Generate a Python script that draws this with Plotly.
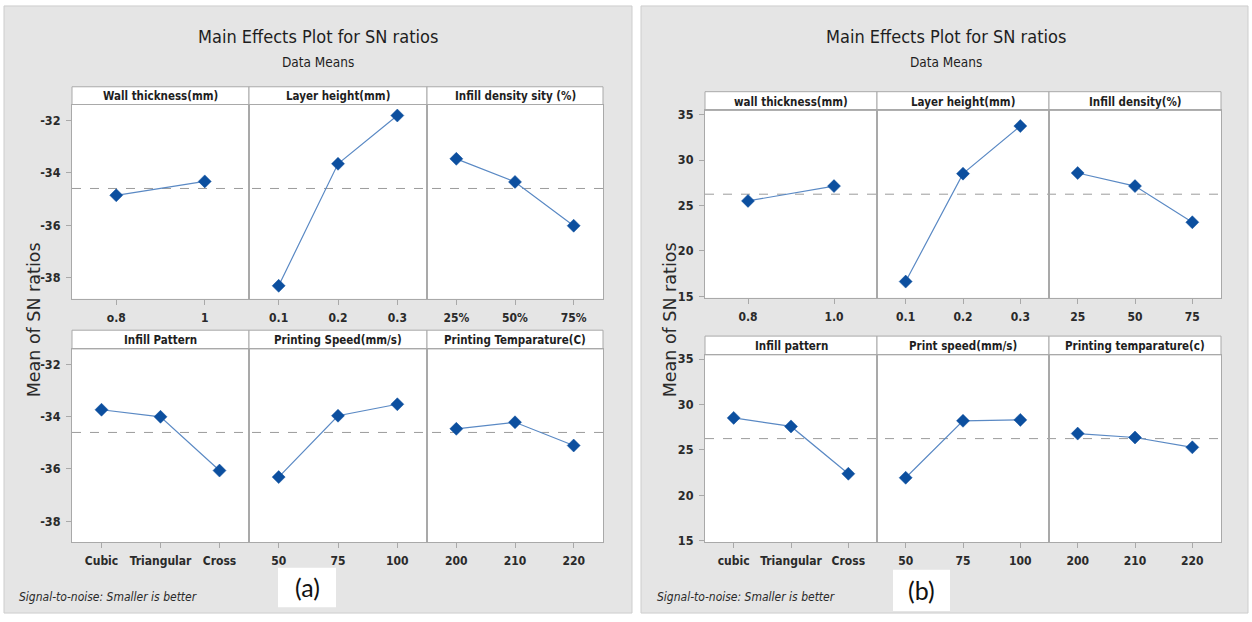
import plotly.graph_objects as go

# ---------------- (a) SN ratios, first response ----------------
a_wall_levels = ["o.8", "1"]
a_wall = [-34.86, -34.33]
a_layer_levels = ["0.1", "0.2", "0.3"]
a_layer = [-38.31, -33.66, -31.82]
a_density_levels = ["25%", "50%", "75%"]
a_density = [-33.47, -34.35, -36.02]
a_pattern_levels = ["Cubic", "Triangular", "Cross"]
a_pattern = [-33.73, -34.00, -36.06]
a_speed_levels = ["50", "75", "100"]
a_speed = [-36.31, -33.96, -33.52]
a_temp_levels = ["200", "210", "220"]
a_temp = [-34.46, -34.21, -35.10]
a_grand_mean = -34.6
a_titles = ["Wall thickness(mm)", "Layer height(mm)", "Infill density sity (%)",
            "Infill Pattern", "Printing Speed(mm/s)", "Printing Temparature(C)"]
a_ytickvals = [-38, -36, -34, -32]
a_yticktext = ["-38", "-36", "-34", "-32"]

# ---------------- (b) SN ratios, second response ----------------
b_wall_levels = ["0.8", "1.0"]
b_wall = [25.51, 27.14]
b_layer_levels = ["0.1", "0.2", "0.3"]
b_layer = [16.63, 28.51, 33.75]
b_density_levels = ["25", "50", "75"]
b_density = [28.58, 27.14, 23.16]
b_pattern_levels = ["cubic", "Triangular", "Cross"]
b_pattern = [28.53, 27.59, 22.38]
b_speed_levels = ["50", "75", "100"]
b_speed = [21.94, 28.21, 28.31]
b_temp_levels = ["200", "210", "220"]
b_temp = [26.80, 26.37, 25.29]
b_grand_mean = 26.25
b_titles = ["wall thickness(mm)", "Layer height(mm)", "Infill density(%)",
            "Infill pattern", "Print speed(mm/s)", "Printing temparature(c)"]
b_ytickvals = [15, 20, 25, 30, 35]
b_yticktext = ["15", "20", "25", "30", "35"]

W, H = 1252, 622
NARROW = "DejaVu Sans Condensed, Liberation Sans Narrow, Roboto, sans-serif"
FRAME = "#a9a9a9"
PANEL_BG = "#e5e5e5"
LINE_C = "#5a89c4"
MARK_C = "#0c4f9f"
TXT = "#1e1e1e"


def px(x):
    return x / W


def py(y):
    return 1 - y / H


fig = go.Figure()
shapes, annotations, axes = [], [], {}
counter = [0]


def draw_chart(panel, cols, rows, factors, titles, mean, yrange, ytv, ytt,
               title_x, ytitle_x, foot_x, tag, tag_box):
    # grey background of the whole Minitab graph
    shapes.append(dict(type="rect", xref="paper", yref="paper",
                       x0=px(panel[0]), x1=px(panel[1]), y0=py(panel[3]), y1=py(panel[2]),
                       fillcolor=PANEL_BG, line=dict(color="#cdcdcd", width=1), layer="below"))
    k = 0
    for r, (s_top, p_top, p_bot) in enumerate(rows):
        first_y = None
        for c, (x0, x1) in enumerate(cols):
            counter[0] += 1
            i = counter[0]
            xn = "x" if i == 1 else f"x{i}"
            yn = "y" if i == 1 else f"y{i}"
            if first_y is None:
                first_y = yn
            levels, vals = factors[k]
            n = len(levels)
            # white plotting area
            shapes.append(dict(type="rect", xref="paper", yref="paper",
                               x0=px(x0), x1=px(x1), y0=py(p_bot), y1=py(p_top),
                               fillcolor="white", line=dict(width=0), layer="below"))
            # factor header strip
            shapes.append(dict(type="rect", xref="paper", yref="paper",
                               x0=px(x0), x1=px(x1), y0=py(p_top), y1=py(s_top),
                               fillcolor="white", line=dict(color=FRAME, width=1), layer="below"))
            annotations.append(dict(text=f"<b>{titles[k]}</b>", xref="paper", yref="paper",
                                    x=px((x0 + x1) / 2), y=py((s_top + p_top) / 2 + 0.5),
                                    showarrow=False, xanchor="center", yanchor="middle",
                                    font=dict(family=NARROW, size=11.5, color=TXT)))
            axes["xaxis" + xn[1:]] = dict(
                domain=[px(x0), px(x1)], anchor=yn, range=[-0.5, n - 0.5],
                tickvals=list(range(n)), ticktext=levels, ticks="outside", ticklen=5,
                tickcolor=FRAME, showgrid=False, zeroline=False, showline=True, mirror=True,
                linecolor=FRAME, linewidth=1, ticklabelstandoff=3,
                tickfont=dict(family=NARROW, size=12, color="#2a2a2a", weight="bold"),
                fixedrange=True)
            axes["yaxis" + yn[1:]] = dict(
                domain=[py(p_bot), py(p_top)], anchor=xn, range=yrange,
                tickvals=ytv, ticktext=ytt, ticks="outside" if c == 0 else "", ticklen=5,
                tickcolor=FRAME, showticklabels=(c == 0), showgrid=False, zeroline=False,
                showline=True, mirror=True, linecolor=FRAME, linewidth=1, ticklabelstandoff=3,
                tickfont=dict(family=NARROW, size=12.5, color="#2a2a2a", weight="bold"),
                fixedrange=True)
            fig.add_trace(go.Scatter(
                x=list(range(n)), y=vals, xaxis=xn, yaxis=yn, mode="lines+markers",
                line=dict(color=LINE_C, width=1.2),
                marker=dict(symbol="diamond", size=10, color=MARK_C,
                            line=dict(color=MARK_C, width=0.5)),
                showlegend=False, hoverinfo="skip"))
            k += 1
        # grand-mean reference line across the row
        shapes.append(dict(type="line", xref="paper", yref=first_y,
                           x0=px(cols[0][0]), x1=px(cols[-1][1]), y0=mean, y1=mean,
                           line=dict(color="#9c9c9c", width=1, dash="dash"), layer="below"))

    annotations.append(dict(text="Main Effects Plot for SN ratios", xref="paper", yref="paper",
                            x=px(title_x), y=py(34), showarrow=False, xanchor="center",
                            yanchor="middle", font=dict(family=NARROW, size=18, color=TXT)))
    annotations.append(dict(text="Data Means", xref="paper", yref="paper",
                            x=px(title_x), y=py(60), showarrow=False, xanchor="center",
                            yanchor="middle", font=dict(family=NARROW, size=13.5, color=TXT)))
    annotations.append(dict(text="Mean of SN ratios", xref="paper", yref="paper",
                            x=px(ytitle_x), y=py(322), showarrow=False, textangle=-90,
                            xanchor="center", yanchor="middle",
                            font=dict(family="DejaVu Sans, sans-serif", size=17.5, color="#2a2a2a")))
    annotations.append(dict(text="<i>Signal-to-noise: Smaller is better</i>", xref="paper",
                            yref="paper", x=px(foot_x), y=py(603), showarrow=False,
                            xanchor="left", yanchor="middle",
                            font=dict(family=NARROW, size=12, color="#2a2a2a")))
    bx0, bx1, by0, by1 = tag_box
    shapes.append(dict(type="rect", xref="paper", yref="paper",
                       x0=px(bx0), x1=px(bx1), y0=py(by1), y1=py(by0),
                       fillcolor="white", line=dict(width=0), layer="above"))
    annotations.append(dict(text=tag, xref="paper", yref="paper",
                            x=px((bx0 + bx1) / 2), y=py((by0 + by1) / 2), showarrow=False,
                            xanchor="center", yanchor="middle",
                            font=dict(family="Lato, Open Sans, sans-serif", size=25, color="#111")))


draw_chart(panel=(4, 632, 3, 619),
           cols=[(72, 249), (249, 427), (427, 603)],
           rows=[(85, 103, 300), (332, 351, 547)],
           factors=[(a_wall_levels, a_wall), (a_layer_levels, a_layer),
                    (a_density_levels, a_density), (a_pattern_levels, a_pattern),
                    (a_speed_levels, a_speed), (a_temp_levels, a_temp)],
           titles=a_titles, mean=a_grand_mean, yrange=[-38.8, -31.4],
           ytv=a_ytickvals, ytt=a_yticktext, title_x=318, ytitle_x=34, foot_x=17,
           tag="(a)", tag_box=(278, 336, 573, 613))

draw_chart(panel=(641, 1248, 3, 619),
           cols=[(705, 877), (877, 1049), (1049, 1221)],
           rows=[(90, 109, 299), (338, 357, 547)],
           factors=[(b_wall_levels, b_wall), (b_layer_levels, b_layer),
                    (b_density_levels, b_density), (b_pattern_levels, b_pattern),
                    (b_speed_levels, b_speed), (b_temp_levels, b_temp)],
           titles=b_titles, mean=b_grand_mean, yrange=[14.86, 35.47],
           ytv=b_ytickvals, ytt=b_yticktext, title_x=946, ytitle_x=670, foot_x=655,
           tag="(b)", tag_box=(893, 950, 575, 617))

fig.update_layout(width=W, height=H, margin=dict(l=0, r=0, t=0, b=0),
                  paper_bgcolor="white", plot_bgcolor="rgba(0,0,0,0)",
                  shapes=shapes, annotations=annotations, **axes)
fig.write_html("out.html")
